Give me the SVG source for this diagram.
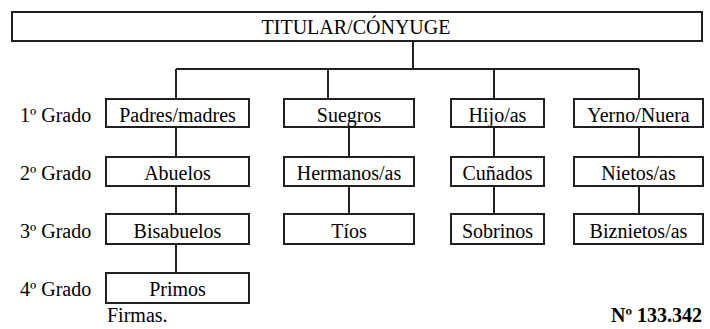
<svg xmlns="http://www.w3.org/2000/svg" width="710" height="329" viewBox="0 0 710 329">
<rect width="710" height="329" fill="#fff"/>
<g id="connectors" fill="none" stroke="#231f20" stroke-width="2">
<path d="M413 41V69M176 69H639M176 69V99M328 69V99M494 69V99M639 69V99"/>
<path d="M176 127V157M176 186V214M176 244V273"/>
<path d="M349 127V157M349 186V214"/>
<path d="M494 127V157M494 186V214"/>
<path d="M639 127V157M639 186V214"/>
</g>
<g id="titular"><rect x="12" y="12" width="690" height="29" fill="#fff" stroke="#231f20" stroke-width="2"/><text x="356" y="34" font-family="Liberation Serif" font-size="20" text-anchor="middle">TITULAR/CÓNYUGE</text></g>
<g id="padres"><rect x="106" y="99" width="143" height="28" fill="#fff" stroke="#231f20" stroke-width="2"/><text x="177.5" y="122" font-family="Liberation Serif" font-size="20" text-anchor="middle">Padres/madres</text></g>
<g id="abuelos"><rect x="106" y="157" width="143" height="29" fill="#fff" stroke="#231f20" stroke-width="2"/><text x="177.5" y="180" font-family="Liberation Serif" font-size="20" text-anchor="middle">Abuelos</text></g>
<g id="bisabuelos"><rect x="106" y="214" width="143" height="30" fill="#fff" stroke="#231f20" stroke-width="2"/><text x="177.5" y="238" font-family="Liberation Serif" font-size="20" text-anchor="middle">Bisabuelos</text></g>
<g id="primos"><rect x="106" y="273" width="143" height="30" fill="#fff" stroke="#231f20" stroke-width="2"/><text x="177.5" y="296" font-family="Liberation Serif" font-size="20" text-anchor="middle">Primos</text></g>
<g id="suegros"><rect x="284" y="99" width="130" height="28" fill="#fff" stroke="#231f20" stroke-width="2"/><text x="349" y="122" font-family="Liberation Serif" font-size="20" text-anchor="middle">Suegros</text></g>
<g id="hermanos"><rect x="284" y="157" width="130" height="29" fill="#fff" stroke="#231f20" stroke-width="2"/><text x="349" y="180" font-family="Liberation Serif" font-size="20" text-anchor="middle">Hermanos/as</text></g>
<g id="tios"><rect x="284" y="214" width="130" height="30" fill="#fff" stroke="#231f20" stroke-width="2"/><text x="349" y="238" font-family="Liberation Serif" font-size="20" text-anchor="middle">Tíos</text></g>
<g id="hijos"><rect x="451" y="99" width="93" height="28" fill="#fff" stroke="#231f20" stroke-width="2"/><text x="497.5" y="122" font-family="Liberation Serif" font-size="20" text-anchor="middle">Hijo/as</text></g>
<g id="cunados"><rect x="451" y="157" width="93" height="29" fill="#fff" stroke="#231f20" stroke-width="2"/><text x="497.5" y="180" font-family="Liberation Serif" font-size="20" text-anchor="middle">Cuñados</text></g>
<g id="sobrinos"><rect x="451" y="214" width="93" height="30" fill="#fff" stroke="#231f20" stroke-width="2"/><text x="497.5" y="238" font-family="Liberation Serif" font-size="20" text-anchor="middle">Sobrinos</text></g>
<g id="yerno"><rect x="574" y="99" width="129" height="28" fill="#fff" stroke="#231f20" stroke-width="2"/><text x="638.5" y="122" font-family="Liberation Serif" font-size="20" text-anchor="middle">Yerno/Nuera</text></g>
<g id="nietos"><rect x="574" y="157" width="129" height="29" fill="#fff" stroke="#231f20" stroke-width="2"/><text x="638.5" y="180" font-family="Liberation Serif" font-size="20" text-anchor="middle">Nietos/as</text></g>
<g id="biznietos"><rect x="574" y="214" width="129" height="30" fill="#fff" stroke="#231f20" stroke-width="2"/><text x="638.5" y="238" font-family="Liberation Serif" font-size="20" text-anchor="middle">Biznietos/as</text></g>
<g id="labels">
<text x="20" y="122" font-family="Liberation Serif" font-size="20">1º Grado</text>
<text x="20" y="180" font-family="Liberation Serif" font-size="20">2º Grado</text>
<text x="20" y="238" font-family="Liberation Serif" font-size="20">3º Grado</text>
<text x="20" y="296" font-family="Liberation Serif" font-size="20">4º Grado</text>
</g>
<text x="107" y="322" font-family="Liberation Serif" font-size="20">Firmas.</text>
<text x="702" y="322" font-family="Liberation Serif" font-size="20" text-anchor="end" font-weight="bold">Nº 133.342</text>
</svg>
